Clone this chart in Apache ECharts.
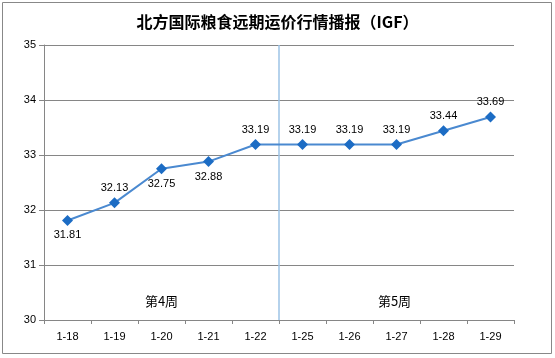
<!DOCTYPE html>
<html><head><meta charset="utf-8">
<script src="https://cdn.jsdelivr.net/npm/echarts@6/dist/echarts.min.js"></script>
<style>html,body{margin:0;padding:0;background:#fff}#c{width:555px;height:358px}</style>
</head><body><div id="c"></div>
<script>
const titleText = '北方国际粮食远期运价行情播报（IGF）';
const categories = ['1-18','1-19','1-20','1-21','1-22','1-25','1-26','1-27','1-28','1-29'];
const values = [31.81, 32.13, 32.75, 32.88, 33.19, 33.19, 33.19, 33.19, 33.44, 33.69];
const labelPos = ['bottom','top','bottom','bottom','top','top','top','top','top','top'];
const weekLabels = ['第4周', '第5周'];
const weekBoundary = 5; // boundary between category index 4 and 5
const yMin = 30, yMax = 35, yStep = 1;

const chart = echarts.init(document.getElementById('c'), null, {renderer:'canvas'});
const font = '"Liberation Sans", "Noto Sans CJK SC", sans-serif';
chart.setOption({
  animation: false,
  backgroundColor: '#fff',
  title: {
    text: titleText, left: 'center', top: 9,
    textStyle: {fontFamily: '"Noto Sans CJK SC", sans-serif', fontSize: 16, fontWeight: 'bold', color: '#000'}
  },
  grid: {left: 44, right: 41, top: 45, bottom: 38, containLabel: false},
  xAxis: [{
    type: 'category', data: categories, boundaryGap: true,
    axisLine: {show: true, lineStyle: {color: '#868686'}},
    axisTick: {show: true, length: 4, lineStyle: {color: '#868686'}},
    axisLabel: {color: '#000', fontSize: 11, fontFamily: font, margin: 11}
  }, {
    type: 'value', min: 0, max: categories.length, show: false
  }],
  yAxis: {
    type: 'value', min: yMin, max: yMax, interval: yStep,
    axisLine: {show: true, lineStyle: {color: '#868686'}},
    axisTick: {show: true, length: 5, lineStyle: {color: '#868686'}},
    axisLabel: {color: '#000', fontSize: 11, fontFamily: font, margin: 8},
    splitLine: {show: true, lineStyle: {color: '#868686'}}
  },
  series: [{
    type: 'line', xAxisIndex: 1, data: [[weekBoundary, yMin], [weekBoundary, yMax]],
    symbol: 'none', lineStyle: {color: '#9DC3E6', width: 1.5}, silent: true, z: 1
  }, {
    type: 'line', data: values.map((v, i) => ({value: v, label: {position: labelPos[i]}})),
    symbol: 'diamond', symbolSize: 11,
    lineStyle: {color: '#4A89D0', width: 2},
    itemStyle: {color: '#1C6CC4'},
    label: {show: true, color: '#000', fontSize: 11, fontFamily: font, distance: 4,
      formatter: p => p.value.toFixed(2)},
    z: 3
  }]
});
const yLbl = chart.convertToPixel({yAxisIndex: 0}, 30.35);
const x4 = chart.convertToPixel({xAxisIndex: 1}, 2.5);
const x5 = chart.convertToPixel({xAxisIndex: 1}, 7.5);
chart.setOption({graphic: [
  {type: 'rect', shape: {x: 2.5, y: 2.5, width: 549, height: 351}, style: {fill: 'none', stroke: '#888', lineWidth: 1}, z: -1},
  {type: 'text', x: x4, y: yLbl, style: {text: weekLabels[0], fontSize: 13, fontFamily: '"Noto Sans CJK SC", sans-serif', fill: '#000', textAlign: 'center', textVerticalAlign: 'middle'}},
  {type: 'text', x: x5 - 2, y: yLbl, style: {text: weekLabels[1], fontSize: 13, fontFamily: '"Noto Sans CJK SC", sans-serif', fill: '#000', textAlign: 'center', textVerticalAlign: 'middle'}}
]});
</script></body></html>
